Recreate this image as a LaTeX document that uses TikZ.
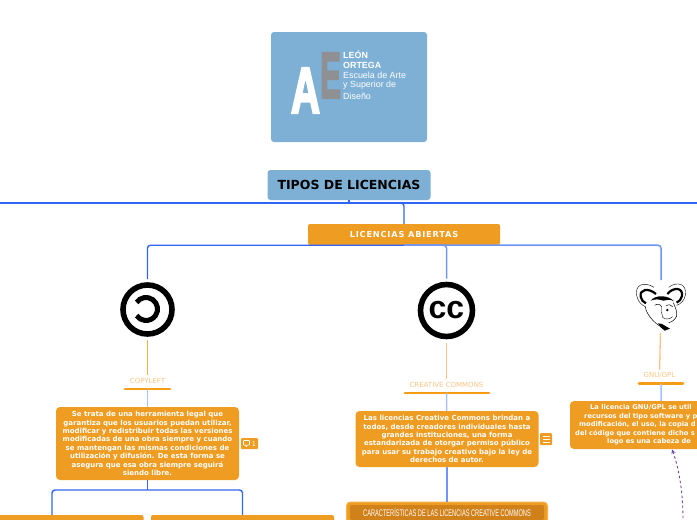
\documentclass[tikz,border=0pt]{standalone}
\usepackage{fontspec}
\usepackage{tikz}
\usetikzlibrary{positioning}
\newfontfamily\boxfont{DejaVu Sans}
\newfontfamily\spacedfont[LetterSpace=10]{DejaVu Sans}
\newfontfamily\logofont{Liberation Sans}
\newfontfamily\heavyfont[FakeBold=4]{Liberation Sans Bold}
\definecolor{logoBlue}{HTML}{7EB0D6}
\definecolor{logoGrey}{HTML}{8E9094}
\definecolor{boxOrange}{HTML}{EF9C22}
\definecolor{darkOrange}{HTML}{D0811A}
\definecolor{barOrange}{HTML}{F59D14}
\definecolor{paleOrange}{HTML}{FBC483}
\definecolor{edgeBlue}{HTML}{2F66F5}
\definecolor{softBlue}{HTML}{6F95F7}
\definecolor{paleBlue}{HTML}{A9C0F5}
\definecolor{dashPurple}{HTML}{6F42A8}

\begin{document}
\begin{tikzpicture}[x=1pt,y=-1pt]

          \tikzstyle{titleNode} = [fill=logoBlue, rounded corners=3, text=black, inner sep=0, font=\boxfont\bfseries\fontsize{12.5}{14}\selectfont];
          \tikzstyle{mainNode} = [fill=boxOrange, rounded corners=2, text=white, inner sep=0, font=\spacedfont\bfseries\fontsize{8.2}{9}\selectfont];
          \tikzstyle{textNode} = [fill=boxOrange, rounded corners=4, text=white, inner sep=0, align=center, minimum width=183, font=\boxfont\bfseries\fontsize{7}{8.4}\selectfont];
          \tikzstyle{labelNode} = [text=paleOrange, inner sep=0, outer sep=3, font=\boxfont\fontsize{7}{8}\selectfont];
          \tikzstyle{badgeNode} = [fill=boxOrange, rounded corners=1, inner sep=0];
          \tikzstyle{logoText} = [text=white, inner sep=0, anchor=west, font=\logofont\fontsize{8.9}{10}\selectfont];

          \tikzstyle{normalEdge} = [draw=edgeBlue, line width=1.4];
          \tikzstyle{busEdge} = [draw=edgeBlue, line width=1.8];
          \tikzstyle{softEdge} = [draw=softBlue, line width=1.5];
          \tikzstyle{paleEdge} = [draw=paleBlue, line width=1.5];
          \tikzstyle{orangeEdge} = [draw=paleOrange, line width=1.3];
          \tikzstyle{barEdge} = [draw=barOrange, line width=2.8, line cap=round];

          \useasboundingbox (0,0) rectangle (697,520);
          \clip (0,0) rectangle (697,520);

          % logo
          \node[fill=logoBlue, rounded corners=3, minimum width=156, minimum height=110, inner sep=0] (logo) at (349,87) {};
          \node[text=logoGrey, inner sep=0, font=\heavyfont\fontsize{65}{65}\selectfont] (logoE) at (330.5,75.5) {\scalebox{.48}[1]{E}};
          \node[text=white, inner sep=0, font=\heavyfont\fontsize{65}{65}\selectfont] (logoA) at (305.5,90.5) {\scalebox{.62}[1]{A}};
          \node[logoText, font=\logofont\bfseries\fontsize{8.9}{10}\selectfont] (leon) at (343,55) {LEÓN};
          \node[logoText, font=\logofont\bfseries\fontsize{8.9}{10}\selectfont] (ortega) at (343,65.5) {ORTEGA};
          \node[logoText] (escuela) at (343,75.5) {Escuela de Arte};
          \node[logoText] (superior) at (343,85.5) {y Superior de};
          \node[logoText] (diseno) at (343,96) {Diseño};

          % top of the map
          \node[titleNode, minimum width=163, minimum height=30] (tipos) at (349,185) {TIPOS DE LICENCIAS};
          \node[mainNode, minimum width=192, minimum height=21] (abiertas) at (404,234.5) {LICENCIAS ABIERTAS};

          \coordinate (busLeft) at (-4,203);
          \coordinate (busRight) at (701,203);
          \coordinate (busMid) at (349,203);

          % icons
          \node[circle, draw=black, line width=5.6, minimum size=49, inner sep=0, outer sep=6] (copyleft) at (147.5,309.5) {};
          \node[circle, draw=black, line width=5.6, minimum size=52, inner sep=0, outer sep=6] (cc) at (446.5,310.5) {\logofont\bfseries\fontsize{32}{32}\selectfont cc};
          \node[minimum width=48, minimum height=47, inner sep=0, outer sep=3] (gnu) at (661,306.5) {};

          \draw[black, line width=5] (136.6,302.4) arc (215:505:11.5);

          % gnu head
          \begin{scope}[shift={(620,270)}, x=0.3333pt, y=-0.3333pt]
            \draw[black, line width=2.2] (108,72) .. controls (85,52) and (58,58) .. (62,80) .. controls (64,90) and (70,97) .. (78,100);
            \draw[black, line width=2.2] (142,72) .. controls (160,50) and (190,52) .. (186,78) .. controls (184,88) and (178,94) .. (170,98);
            \draw[black, line width=0.4] (102,52) .. controls (70,32) and (44,46) .. (50,76) .. controls (53,92) and (62,104) .. (76,110);
            \draw[black, line width=0.4] (146,52) .. controls (172,32) and (202,42) .. (196,76) .. controls (193,92) and (182,102) .. (170,106);
            \fill[black] (92,92) .. controls (105,74) and (145,74) .. (162,94) .. controls (150,86) and (140,90) .. (130,92) .. controls (118,88) and (105,86) .. (92,92) -- cycle;
            \draw[black, line width=0.5] (76,110) .. controls (78,130) and (98,155) .. (122,170);
            \draw[black, line width=0.5] (160,98) .. controls (166,112) and (172,125) .. (170,138) .. controls (165,150) and (155,156) .. (146,158);
            \draw[black, line width=0.5] (104,106) .. controls (112,100) and (120,102) .. (125,110);
            \draw[black, line width=0.5] (138,108) .. controls (146,102) and (153,104) .. (158,110);
            \draw[black, line width=0.4] (125,112) .. controls (127,125) and (122,132) .. (128,142) .. controls (135,150) and (150,148) .. (158,140);
            \fill[black] (142,120) circle (4);
            \fill[black] (114,160) -- (126,162) -- (136,168) -- (150,176) -- (134,182) -- (122,172) -- cycle;
          \end{scope}

          \draw[normalEdge, rounded corners=3] (abiertas.south) -| (copyleft);
          \draw[softEdge, rounded corners=3] (abiertas.south) -| (cc);
          \draw[softEdge, rounded corners=3] (abiertas.south) -| (gnu);

          % copyleft branch
          \node[labelNode] (copyleftLabel) at (147.5,380.5) {COPYLEFT};
          \coordinate (copyleftBarL) at (125,389);
          \coordinate (copyleftBarR) at (170,389);
          \coordinate (copyleftBar) at (147.5,389);
          \node[textNode, minimum height=73] (copyleftText) at (147.5,443.5) {Se trata de una herramienta legal que\\garantiza que los usuarios puedan utilizar,\\modificar y redistribuir todas las versiones\\modificadas de una obra siempre y cuando\\se mantengan las mismas condiciones de\\utilización y difusión.  De esta forma se\\asegura que esa obra siempre seguirá\\siendo libre.};
          \node[badgeNode, minimum width=17, minimum height=11] (copyleftNote) at (249.5,443.5) {};
          \node[text=white, inner sep=0, font=\boxfont\fontsize{6.5}{8}\selectfont] (noteCount) at (254,443.8) {1};
          \draw[white, line width=0.6, rounded corners=0.5] (243.5,440.5) -- (249.5,440.5) -- (249.5,445) -- (247.5,445) -- (246,447) -- (246,445) -- (243.5,445) -- cycle;
          \node[mainNode, minimum width=183, minimum height=40] (leftBox) at (52,535) {};
          \node[mainNode, minimum width=183, minimum height=40] (midBox) at (242.5,535) {};

          \draw[orangeEdge, draw=barOrange!80, line width=0.8] (copyleft) -- (copyleftLabel);
          \draw[barEdge] (copyleftBarL) -- (copyleftBarR);
          \draw[paleEdge, line width=1] (copyleftBar) -- (copyleftText);
          \coordinate (copyleftFork) at (147.5,490);
          \draw[normalEdge] (copyleftText) -- (copyleftFork);
          \draw[normalEdge, rounded corners=3] (copyleftFork) -| (leftBox);
          \draw[normalEdge, rounded corners=3] (copyleftFork) -| (midBox);

          % creative commons branch
          \node[labelNode] (ccLabel) at (446.5,384.5) {CREATIVE COMMONS};
          \coordinate (ccBarL) at (405,393);
          \coordinate (ccBarR) at (489,393);
          \coordinate (ccBar) at (446.5,393);
          \node[textNode, minimum height=56] (ccText) at (447,439) {Las licencias Creative Commons brindan a\\todos, desde creadores individuales hasta\\grandes instituciones, una forma\\estandarizada de otorgar permiso público\\para usar su trabajo creativo bajo la ley de\\derechos de autor.};
          \node[badgeNode, minimum width=12, minimum height=12] (ccNote) at (546,439) {};
          \draw[white, line width=0.6] (542.5,436) -- (549.5,436) (542.5,439) -- (549.5,439) (542.5,442) -- (549.5,442);
          \node[fill=boxOrange, draw=boxOrange!80!white, line width=1, rounded corners=4, minimum width=201, minimum height=40, inner sep=0] (traits) at (447,522) {};
          \node[fill=darkOrange, rounded corners=2, minimum width=194, minimum height=15, inner sep=0, text=white, font=\logofont\fontsize{9.6}{11}\selectfont] (traitsTitle) at (447,512.5) {\scalebox{.59}[1]{CARACTERÍSTICAS DE LAS LICENCIAS CREATIVE COMMONS}};

          \draw[orangeEdge] (cc) -- (ccLabel);
          \draw[barEdge] (ccBarL) -- (ccBarR);
          \draw[paleEdge] (ccBar) -- (ccText);
          \draw[softEdge, line width=2] (ccText) -- (traits);

          % gnu branch
          \node[labelNode] (gnuLabel) at (659.5,375.5) {GNU/GPL};
          \coordinate (gnuBarL) at (639,383.5);
          \coordinate (gnuBarR) at (683,383.5);
          \coordinate (gnuBar) at (661,383.5);
          \node[fill=boxOrange, rounded corners=4, minimum width=183, minimum height=48, inner sep=0] (gnuText) at (661.5,425) {};
          \node[text=white, inner sep=0, anchor=north west, align=left, font=\boxfont\bfseries\fontsize{6.7}{8.5}\selectfont] (gnuLines) at (575,404.5) {\hspace*{15pt}La licencia GNU/GPL se util\\\hspace*{9pt}recursos del tipo software y p\\\hspace*{4pt}modificación, el uso, la copia d\\del código que contiene dicho s\\\hspace*{32pt}logo es una cabeza de};

          \draw[orangeEdge] (gnu) -- (gnuLabel);
          \draw[barEdge] (gnuBarL) -- (gnuBarR);
          \draw[paleEdge] (gnuBar) -- (gnuText);

          \coordinate (dashStart) at (683,518);
          \coordinate (dashEnd) at (672,449.5);
          \draw[dashPurple, line width=0.9, dash pattern=on 2.5pt off 2.5pt, -stealth] (dashStart) .. controls (683,490) and (678,465) .. (dashEnd);

          % bus of the top node
          \draw[busEdge] (busLeft) -- (busRight);
          \draw[normalEdge] (tipos) -- (busMid);
          \draw[normalEdge, rounded corners=3] (busMid) -| (abiertas);

        \end{tikzpicture}
\end{document}
